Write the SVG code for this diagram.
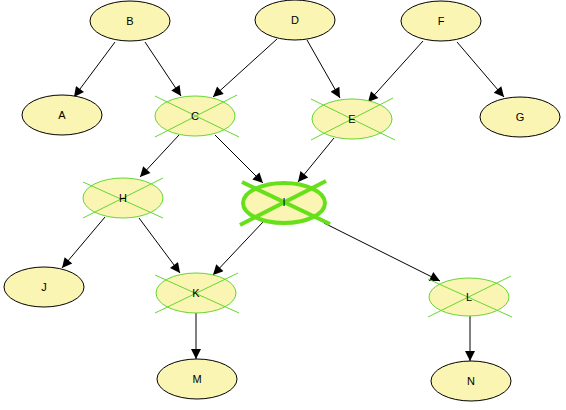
<svg xmlns="http://www.w3.org/2000/svg" width="566" height="410" viewBox="0 0 566 410">
<defs>
<marker id="ah" viewBox="0 0 10 10" refX="10" refY="5" markerWidth="12" markerHeight="10" markerUnits="userSpaceOnUse" orient="auto">
<path d="M0,0 L10,5 L0,10 Z" fill="#000"/>
</marker>
<style>
.n ellipse{fill:#FAF5B2;stroke:#000;stroke-width:1}
.x ellipse{fill:#FAF5B2;stroke:#66D633;stroke-width:1}
.x line{stroke:#66D633;stroke-width:1}
.xx ellipse{fill:#FAF5B2;stroke:#66E01A;stroke-width:4}
.xx line{stroke:#66E01A;stroke-width:4}
text{font-family:"Liberation Sans",Arial,sans-serif;font-size:11px;fill:#000;text-anchor:middle}
.e line{stroke:#000;stroke-width:1;marker-end:url(#ah)}
</style>
</defs>
<rect width="566" height="410" fill="#fff"/>
<g class="e" id="edges">
<line x1="115" y1="42" x2="74" y2="97"/>
<line x1="145" y1="42" x2="181" y2="96"/>
<line x1="277" y1="39" x2="213" y2="97"/>
<line x1="307" y1="40" x2="340" y2="98"/>
<line x1="423" y1="41" x2="368" y2="102"/>
<line x1="457" y1="42" x2="504" y2="97"/>
<line x1="179" y1="135" x2="140" y2="177"/>
<line x1="215" y1="135" x2="263" y2="183"/>
<line x1="334" y1="138" x2="298" y2="182"/>
<line x1="105" y1="217" x2="62" y2="268"/>
<line x1="139" y1="218" x2="180" y2="273"/>
<line x1="263" y1="222" x2="213" y2="275"/>
<line x1="324" y1="223" x2="440" y2="281"/>
<line x1="196" y1="312" x2="196" y2="359"/>
<line x1="470" y1="316" x2="470" y2="361"/>
</g>
<g id="B" class="n"><ellipse cx="130" cy="21" rx="40" ry="20"/><text x="130" y="25">B</text></g>
<g id="D" class="n"><ellipse cx="295" cy="20" rx="40" ry="20"/><text x="295" y="24">D</text></g>
<g id="F" class="n"><ellipse cx="441" cy="21" rx="40" ry="20"/><text x="441" y="25">F</text></g>
<g id="A" class="n"><ellipse cx="62" cy="115" rx="40" ry="20"/><text x="62" y="119">A</text></g>
<g id="G" class="n"><ellipse cx="520" cy="117" rx="40" ry="20"/><text x="520" y="121">G</text></g>
<g id="C" class="x"><ellipse cx="195" cy="116" rx="40" ry="20"/><line x1="155" y1="96" x2="239" y2="137"/><line x1="155" y1="137" x2="237" y2="95"/><text x="195" y="120">C</text></g>
<g id="E" class="x"><ellipse cx="352" cy="119" rx="40" ry="20"/><line x1="311" y1="99" x2="395" y2="140"/><line x1="311" y1="140" x2="393" y2="98"/><text x="352" y="123">E</text></g>
<g id="H" class="x"><ellipse cx="123" cy="198" rx="40" ry="20"/><line x1="83" y1="182" x2="163" y2="218"/><line x1="83" y1="218" x2="163" y2="178"/><text x="123" y="202">H</text></g>
<g id="I" class="xx"><ellipse cx="284" cy="203" rx="41" ry="20"/><line x1="242" y1="182" x2="330" y2="224"/><line x1="240" y1="225" x2="326" y2="181"/><text x="284" y="206">I</text></g>
<g id="J" class="n"><ellipse cx="44" cy="287" rx="40" ry="20"/><text x="44" y="291">J</text></g>
<g id="K" class="x"><ellipse cx="196" cy="293" rx="40" ry="20"/><line x1="155" y1="275" x2="239" y2="313"/><line x1="155" y1="313" x2="238" y2="273"/><text x="196" y="297">K</text></g>
<g id="L" class="x"><ellipse cx="469" cy="297" rx="40" ry="19"/><line x1="428" y1="279" x2="512" y2="317"/><line x1="428" y1="317" x2="511" y2="276"/><text x="469" y="301">L</text></g>
<g id="M" class="n"><ellipse cx="197" cy="379" rx="40" ry="20"/><text x="197" y="383">M</text></g>
<g id="N" class="n"><ellipse cx="471" cy="381" rx="40" ry="20"/><text x="471" y="385">N</text></g>
</svg>
